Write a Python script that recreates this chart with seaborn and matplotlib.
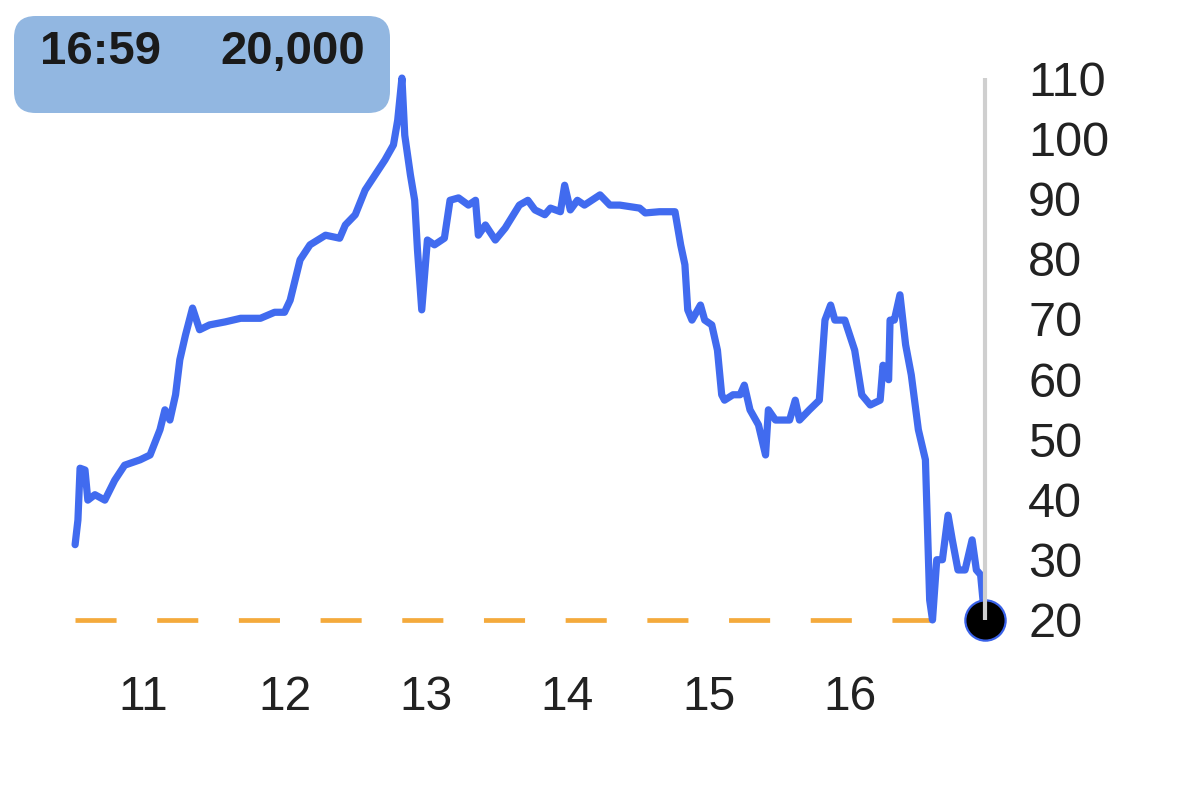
import matplotlib
matplotlib.use("Agg")
import matplotlib.pyplot as plt
from matplotlib.patches import FancyBboxPatch
import seaborn as sns
import pandas as pd

# ---- data (time in decimal hours, value in thousands) ----
times = [10.52, 10.54, 10.555, 10.59, 10.61, 10.66, 10.73, 10.80, 10.87, 10.98,
         11.05, 11.12, 11.155, 11.19, 11.23, 11.26, 11.30, 11.35, 11.40, 11.47,
         11.58, 11.69, 11.83, 11.93, 12.00, 12.04, 12.11, 12.18, 12.29, 12.39,
         12.43, 12.50, 12.57, 12.64, 12.71, 12.77, 12.80, 12.83, 12.85, 12.89,
         12.92, 12.94, 12.97, 13.01, 13.06, 13.13, 13.17, 13.23, 13.30, 13.35,
         13.37, 13.42, 13.49, 13.56, 13.66, 13.72, 13.77, 13.84, 13.88, 13.95,
         13.98, 14.02, 14.07, 14.12, 14.23, 14.30, 14.37, 14.51, 14.55, 14.65,
         14.76, 14.80, 14.83, 14.85, 14.88, 14.94, 14.97, 15.02, 15.06, 15.09,
         15.11, 15.17, 15.22, 15.25, 15.29, 15.35, 15.40, 15.42, 15.47, 15.50,
         15.57, 15.61, 15.64, 15.71, 15.78, 15.82, 15.86, 15.89, 15.96, 16.03,
         16.08, 16.14, 16.21, 16.23, 16.27, 16.28, 16.31, 16.35, 16.39, 16.43,
         16.48, 16.53, 16.56, 16.58, 16.61, 16.65, 16.69, 16.72, 16.76, 16.81,
         16.86, 16.89, 16.92, 16.95]
values = [32.5, 36.6, 45.2, 44.9, 39.9, 40.8, 39.9, 43.2, 45.7, 46.6,
          47.4, 51.6, 54.9, 53.2, 57.4, 63.2, 67.3, 71.8, 68.2, 69.0,
          69.5, 70.1, 70.1, 71.1, 71.1, 73.1, 79.8, 82.3, 83.9, 83.4,
          85.6, 87.3, 91.4, 93.9, 96.4, 98.9, 103.0, 110.0, 100.5, 93.9,
          89.7, 81.4, 71.5, 83.1, 82.3, 83.4, 89.7, 90.1, 88.9, 89.7,
          83.9, 85.6, 83.1, 85.1, 88.9, 89.7, 88.1, 87.3, 88.4, 87.8,
          92.2, 88.1, 89.7, 88.9, 90.6, 88.9, 88.9, 88.4, 87.6, 87.8,
          87.8, 82.3, 79.0, 71.5, 69.8, 72.3, 69.8, 69.0, 64.8, 57.4,
          56.5, 57.4, 57.4, 59.0, 54.9, 52.4, 47.4, 54.9, 53.2, 53.2,
          53.2, 56.5, 53.2, 54.9, 56.5, 69.8, 72.3, 69.8, 69.8, 64.8,
          57.4, 55.7, 56.5, 62.3, 59.9, 69.8, 69.8, 74.0, 65.7, 60.7,
          51.6, 46.6, 23.3, 20.0, 30.0, 30.0, 37.4, 33.3, 28.3, 28.3,
          33.3, 28.3, 27.5, 20.0]
x_ticks = [11, 12, 13, 14, 15, 16]
y_ticks = [20, 30, 40, 50, 60, 70, 80, 90, 100, 110]
low_value = 20
low_time = 16.58
last_time = 16.95
last_label = "16:59"
last_value_label = "20,000"

sns.set_style("white")
plt.rcParams["font.family"] = ["Liberation Sans", "DejaVu Sans"]

df = pd.DataFrame({"time": times, "value": values})

fig = plt.figure(figsize=(12, 8), dpi=100)
ax = fig.add_axes([65.2 / 1200, 0.2025, (999 - 65.2) / 1200, 0.7225])

sns.lineplot(data=df, x="time", y="value", ax=ax, color="#416BEF",
             linewidth=5.2, solid_joinstyle="round", zorder=3)

# dashed low line
ax.plot([times[0], low_time], [low_value, low_value], color="#F4AA3C",
        linewidth=3.4, dashes=(8.7, 8.6), zorder=2)

# current marker
ax.plot([last_time], [low_value], marker="o", markersize=29,
        markerfacecolor="black", markeredgecolor="#3A62E8",
        markeredgewidth=1.6, zorder=4, clip_on=False)
# vertical guide
ax.plot([last_time, last_time], [low_value, y_ticks[-1]], color="#CFCFCF",
        linewidth=3, zorder=5, solid_capstyle="butt", clip_on=False)

ax.set_xlim(10.45, 17.05)
ax.set_ylim(17, 113)
ax.set_xticks(x_ticks)
ax.set_xticklabels([str(t) for t in x_ticks])
ax.set_yticks(y_ticks)
ax.yaxis.tick_right()
ax.tick_params(axis="y", length=0, pad=21, labelsize=35, labelcolor="#222222")
ax.tick_params(axis="x", length=0, pad=27, labelsize=34.5, labelcolor="#222222")
for lab in ax.get_yticklabels():
    lab.set_horizontalalignment("left")
ax.set_xlabel("")
ax.set_ylabel("")
for s in ax.spines.values():
    s.set_visible(False)
ax.grid(False)

# info box
box = FancyBboxPatch((14 / 1200, 1 - 113 / 800), 376 / 1200, 97 / 800,
                     boxstyle="round,pad=0,rounding_size=0.018",
                     transform=fig.transFigure, facecolor="#92B7E1",
                     edgecolor="none", mutation_aspect=1.5)
fig.patches.append(box)
fig.text(40 / 1200, 1 - 52 / 800, last_label, ha="left", va="center",
         fontsize=34, fontweight="bold", color="#1a1a1a")
fig.text(365 / 1200, 1 - 52 / 800, last_value_label, ha="right", va="center",
         fontsize=34, fontweight="bold", color="#1a1a1a")

fig.savefig("out.png", dpi=100)
